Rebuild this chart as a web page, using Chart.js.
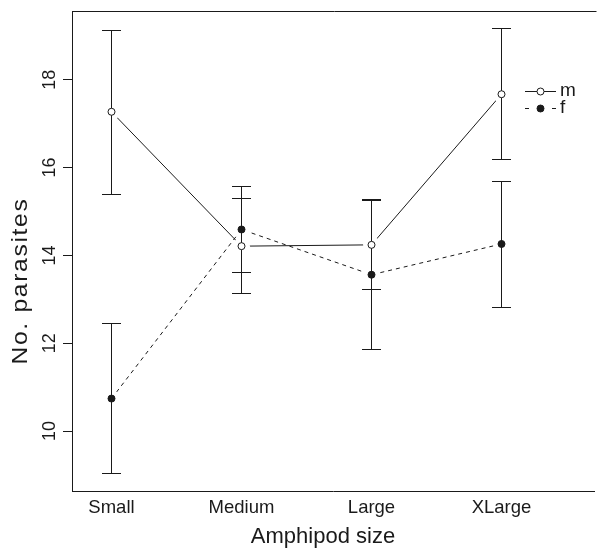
<!DOCTYPE html>
<html><head><meta charset="utf-8">
<script src="https://cdn.jsdelivr.net/npm/chart.js@4/dist/chart.umd.min.js"></script>
<style>html,body{margin:0;padding:0;background:#fff;overflow:hidden}#wrap{width:603px;height:549px}</style>
</head><body><div id="wrap"><canvas id="c" width="603" height="549"></canvas></div>
<script>
// ---- data ----
const categories = ['Small', 'Medium', 'Large', 'XLarge'];
const seriesNames = ['m', 'f'];
const mMean  = [17.27, 14.21, 14.24, 17.67];
const mLower = [15.39, 13.13, 13.22, 16.19];
const mUpper = [19.12, 15.30, 15.26, 19.16];
const fMean  = [10.74, 14.59, 13.56, 14.26];
const fLower = [9.04, 13.60, 11.85, 12.82];
const fUpper = [12.44, 15.58, 15.27, 15.68];
const yTicks = [10, 12, 14, 16, 18];
const xTitle = 'Amphipod size';
const yTitle = 'No. parasites';

// ---- styling / layout ----
const INK = '#1a1a1a';
const FONT = "'Liberation Sans', Arial, Helvetica, sans-serif";
const HALO = 8.5, CAP = 9.5, PR = 3.5;
const Y_MIN = 8.635, Y_MAX = 19.565;
const FIRST_CAT_PX = 111.5, CAT_STEP_PX = 130;   // layout of the category axis

const toPts = arr => arr.map((v, i) => ({x: i, y: v}));

const errPlugin = {
  id: 'errbars',
  afterLayout(chart) {
    const s = chart.scales.x, a = chart.chartArea;
    s.min = (a.left - FIRST_CAT_PX) / CAT_STEP_PX;
    s.max = (a.right - FIRST_CAT_PX) / CAT_STEP_PX;
    s.configure();
  },
  beforeDatasetsDraw(chart) { chart.$errDone = false; },
  beforeDatasetDraw(chart, args) {
    const ds = chart.data.datasets[args.index];
    if (ds.role !== 'mark' || chart.$errDone) return;
    chart.$errDone = true;
    const ctx = chart.ctx, xs = chart.scales.x, ys = chart.scales.y;
    ctx.save();
    ctx.strokeStyle = INK; ctx.lineWidth = 1; ctx.setLineDash([]);
    chart.data.datasets.filter(d => d.role === 'line').forEach(d => {
      d.data.forEach((p, i) => {
        const px = Math.round(xs.getPixelForValue(p.x) - 0.5) + 0.5;
        const y1 = Math.round(ys.getPixelForValue(d.lower[i]) - 0.5) + 0.5;
        const y2 = Math.round(ys.getPixelForValue(d.upper[i]) - 0.5) + 0.5;
        ctx.beginPath();
        ctx.moveTo(px, y1); ctx.lineTo(px, y2);
        ctx.moveTo(px - CAP, y1); ctx.lineTo(px + CAP, y1);
        ctx.moveTo(px - CAP, y2); ctx.lineTo(px + CAP, y2);
        ctx.stroke();
      });
    });
    ctx.restore();
  },
  afterDraw(chart) {
    const ctx = chart.ctx, a = chart.chartArea;
    ctx.save();
    ctx.strokeStyle = INK; ctx.lineWidth = 1;
    ctx.beginPath();
    const ty = Math.round(a.top) + 0.5;
    ctx.moveTo(Math.round(a.left) + 0.5, ty); ctx.lineTo(a.right + 2, ty);
    ctx.stroke();
    // legend
    const rows = [{name: seriesNames[0], y: 91.5, filled: false, dash: false},
                  {name: seriesNames[1], y: 108.5, filled: true, dash: true}];
    const lx0 = 525, lx1 = 556, cx = 540.5;
    rows.forEach(r => {
      ctx.beginPath();
      if (r.dash) {
        ctx.moveTo(lx0, r.y); ctx.lineTo(lx0 + 4, r.y);
        ctx.moveTo(lx1 - 4, r.y); ctx.lineTo(lx1, r.y);
      } else {
        ctx.moveTo(lx0, r.y); ctx.lineTo(lx1, r.y);
      }
      ctx.stroke();
      ctx.beginPath();
      ctx.arc(cx, r.y, PR, 0, Math.PI * 2);
      ctx.fillStyle = r.filled ? INK : '#fff';
      ctx.fill(); ctx.stroke();
      ctx.fillStyle = INK;
      ctx.font = '19px ' + FONT;
      ctx.textBaseline = 'middle';
      ctx.textAlign = 'left';
      ctx.fillText(r.name, 560, r.y - 1);
    });
    // axis titles
    ctx.fillStyle = INK;
    ctx.font = '22px ' + FONT;
    ctx.textAlign = 'center';
    ctx.textBaseline = 'middle';
    ctx.fillText(xTitle, 323, 537);
    ctx.save();
    ctx.translate(21, 281);
    ctx.rotate(-Math.PI / 2);
    ctx.scale(1.12, 1);
    if ('letterSpacing' in ctx) ctx.letterSpacing = '1.5px';
    ctx.fillText(yTitle, 0, 0);
    ctx.restore();
    ctx.restore();
  }
};

const lineDs = (label, mean, lo, hi, dash, order) => ({
  label, role: 'line', data: toPts(mean), lower: lo, upper: hi,
  showLine: true, borderColor: INK, borderWidth: 1, borderDash: dash,
  pointRadius: HALO, pointHoverRadius: HALO, pointBorderWidth: 0,
  pointBorderColor: 'rgba(0,0,0,0)', pointBackgroundColor: '#fff',
  fill: false, tension: 0, order
});
const markDs = (label, mean, filled, order) => ({
  label, role: 'mark', data: toPts(mean), showLine: false,
  pointRadius: PR, pointHoverRadius: PR, pointBorderWidth: 1,
  pointBorderColor: INK, pointBackgroundColor: filled ? INK : '#fff', order
});

new Chart(document.getElementById('c'), {
  type: 'scatter',
  data: {
    datasets: [
      lineDs(seriesNames[0], mMean, mLower, mUpper, [], 10),
      lineDs(seriesNames[1], fMean, fLower, fUpper, [4, 4], 11),
      markDs(seriesNames[0], mMean, false, 1),
      markDs(seriesNames[1], fMean, true, 2)
    ]
  },
  options: {
    responsive: false, animation: false, devicePixelRatio: 1,
    layout: {padding: {top: 11, right: 0, left: 0, bottom: 0}},
    plugins: {legend: {display: false}, tooltip: {enabled: false}},
    events: [],
    scales: {
      x: {
        type: 'linear', min: -0.3, max: 3.78,
        afterBuildTicks: s => { s.ticks = categories.map((c, i) => ({value: i})); },
        ticks: {callback: v => categories[v] ?? '', font: {family: FONT, size: 18.5}, color: INK,
                padding: 6, maxRotation: 0, minRotation: 0, autoSkip: false},
        grid: {display: false, drawTicks: false},
        border: {display: true, color: INK, width: 1},
        title: {display: false},
        afterFit: s => { s.height = 58; s.paddingLeft = 0; s.paddingRight = 0; }
      },
      y: {
        min: Y_MIN, max: Y_MAX,
        afterBuildTicks: s => { s.ticks = yTicks.map(v => ({value: v})); },
        ticks: {font: {family: FONT, size: 18}, color: INK, minRotation: 90, maxRotation: 90,
                crossAlign: 'center', padding: 3},
        grid: {drawOnChartArea: false, drawTicks: true, tickLength: 9, color: INK},
        border: {display: true, color: INK, width: 1},
        title: {display: false},
        afterFit: s => { s.width = 72; s.paddingTop = 0; s.paddingBottom = 0; }
      }
    }
  },
  plugins: [errPlugin]
});
</script>
</body></html>
